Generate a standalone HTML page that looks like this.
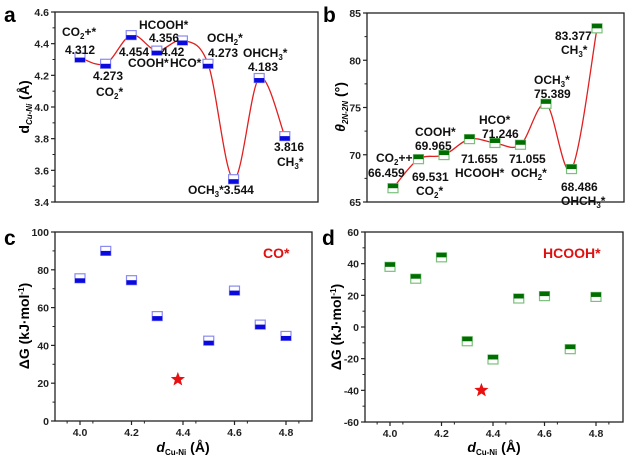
<!DOCTYPE html>
<html><head><meta charset="utf-8">
<style>
html,body{margin:0;padding:0;background:#fff;}
svg{display:block;font-family:"Liberation Sans",Arial,sans-serif;font-weight:bold;}
.t{font-size:12px;fill:#111;}
.tk{font-size:10.5px;fill:#222;}
.L{font-size:21px;fill:#000;}
</style></head><body>
<svg id="s" width="639" height="463" viewBox="0 0 639 463" xmlns="http://www.w3.org/2000/svg">
<rect width="639" height="463" fill="#fff"/>
<g id="g"></g>
<!-- panel letters -->
<text class="L" x="4" y="22">a</text>
<text class="L" x="323" y="22">b</text>
<text class="L" x="4" y="245">c</text>
<text class="L" x="322" y="245">d</text>

<!-- panel a labels -->
<g class="t">
<text x="62" y="36">CO<tspan font-size="8" dy="3">2</tspan><tspan dy="-3">+*</tspan></text>
<text x="65" y="54">4.312</text>
<text x="93" y="80">4.273</text>
<text x="96" y="96">CO<tspan font-size="8" dy="3">2</tspan><tspan dy="-3">*</tspan></text>
<text x="139" y="29">HCOOH*</text>
<text x="119" y="56">4.454</text>
<text x="149" y="42">4.356</text>
<text x="128" y="67">COOH*</text>
<text x="161" y="56">4.42</text>
<text x="170" y="67">HCO*</text>
<text x="207" y="42">OCH<tspan font-size="8" dy="3">2</tspan><tspan dy="-3">*</tspan></text>
<text x="208" y="57">4.273</text>
<text x="243" y="57">OHCH<tspan font-size="8" dy="3">3</tspan><tspan dy="-3">*</tspan></text>
<text x="248" y="71">4.183</text>
<text x="274" y="151">3.816</text>
<text x="277" y="166">CH<tspan font-size="8" dy="3">3</tspan><tspan dy="-3">*</tspan></text>
<text x="188" y="194">OCH<tspan font-size="8" dy="3">3</tspan><tspan dy="-3">*3.544</tspan></text>
</g>
<!-- panel b labels -->
<g class="t">
<text x="555" y="40">83.377</text>
<text x="561" y="54">CH<tspan font-size="8" dy="3">3</tspan><tspan dy="-3">*</tspan></text>
<text x="534" y="84">OCH<tspan font-size="8" dy="3">3</tspan><tspan dy="-3">*</tspan></text>
<text x="534" y="98">75.389</text>
<text x="479" y="124">HCO*</text>
<text x="482" y="138">71.246</text>
<text x="415" y="136">COOH*</text>
<text x="415" y="150">69.965</text>
<text x="376" y="162">CO<tspan font-size="8" dy="3">2</tspan><tspan dy="-3">++</tspan></text>
<text x="368" y="177">66.459</text>
<text x="461" y="163">71.655</text>
<text x="455" y="177">HCOOH*</text>
<text x="509" y="163">71.055</text>
<text x="511" y="177">OCH<tspan font-size="8" dy="3">2</tspan><tspan dy="-3">*</tspan></text>
<text x="412" y="181">69.531</text>
<text x="416" y="195">CO<tspan font-size="8" dy="3">2</tspan><tspan dy="-3">*</tspan></text>
<text x="561" y="191">68.486</text>
<text x="561" y="205">OHCH<tspan font-size="8" dy="3">3</tspan><tspan dy="-3">*</tspan></text>
</g>
<text x="263" y="258" font-size="14" fill="#e01010" style="font-weight:bold">CO*</text>
<text x="543" y="258" font-size="14" fill="#e01010" style="font-weight:bold">HCOOH*</text>

<!-- axis titles -->
<text transform="translate(29,107) rotate(-90)" text-anchor="middle" font-size="14">d<tspan font-size="8" dy="3" font-style="italic">Cu-Ni</tspan><tspan dy="-3"> (Å)</tspan></text>
<text transform="translate(345,107) rotate(-90)" text-anchor="middle" font-size="14" font-style="italic">θ<tspan font-size="8" dy="3">2N-2N</tspan><tspan dy="-3" font-style="normal"> (°)</tspan></text>
<text transform="translate(29,326) rotate(-90)" text-anchor="middle" font-size="14">ΔG (kJ·mol<tspan font-size="8" dy="-5">-1</tspan><tspan dy="5">)</tspan></text>
<text transform="translate(341,327) rotate(-90)" text-anchor="middle" font-size="14">ΔG (kJ·mol<tspan font-size="8" dy="-5">-1</tspan><tspan dy="5">)</tspan></text>
<text x="183" y="452" text-anchor="middle" font-size="14"><tspan font-style="italic">d</tspan><tspan font-size="8" dy="3">Cu-Ni</tspan><tspan dy="-3"> (Å)</tspan></text>
<text x="494" y="452" text-anchor="middle" font-size="14"><tspan font-style="italic">d</tspan><tspan font-size="8" dy="3">Cu-Ni</tspan><tspan dy="-3"> (Å)</tspan></text>
</svg>
<script>
var NS="http://www.w3.org/2000/svg",g=document.getElementById("g");
function el(n,a,p){var e=document.createElementNS(NS,n);for(var k in a)e.setAttribute(k,a[k]);(p||g).appendChild(e);return e;}
function txt(x,y,s,anc){var e=el("text",{x:x,y:y,"class":"tk","text-anchor":anc||"middle"});e.textContent=s;}
function axes(x0,x1,y0,y1,yt,ylab,xt,xlab){
 el("rect",{x:x0,y:y0,width:x1-x0,height:y1-y0,fill:"none",stroke:"#222","stroke-width":1.3});
 for(var i=0;i<yt.length;i++){var y=yt[i];el("line",{x1:x0-4,x2:x0,y1:y,y2:y,stroke:"#222","stroke-width":1.2});txt(x0-6,y+4,ylab[i],"end");
  if(i<yt.length-1){var m=(y+yt[i+1])/2;el("line",{x1:x0-2.5,x2:x0,y1:m,y2:m,stroke:"#222","stroke-width":1});}}
 if(xt){for(var i=0;i<xt.length;i++){var x=xt[i];el("line",{x1:x,x2:x,y1:y1,y2:y1+4,stroke:"#222","stroke-width":1.2});txt(x,y1+15,xlab[i]);
  var m=x+12.875;el("line",{x1:m,x2:m,y1:y1,y2:y1+2.5,stroke:"#222","stroke-width":1});if(i==0){m=x-12.875;el("line",{x1:m,x2:m,y1:y1,y2:y1+2.5,stroke:"#222","stroke-width":1});}}}
}
function cr(p){var d="M"+p[0][0]+","+p[0][1];for(var i=0;i<p.length-1;i++){var a=p[i>0?i-1:0],b=p[i],c=p[i+1],e=p[i+2<p.length?i+2:i+1];
 d+=" C"+(b[0]+(c[0]-a[0])/6)+","+(b[1]+(c[1]-a[1])/6)+" "+(c[0]-(e[0]-b[0])/6)+","+(c[1]-(e[1]-b[1])/6)+" "+c[0]+","+c[1];}return d;}
function mk(x,y,type){var w=10,h=9;
 if(type=="b"){el("rect",{x:x-w/2,y:y-h/2,width:w,height:h,fill:"#fff",stroke:"#8a8af0","stroke-width":1.2});el("rect",{x:x-w/2,y:y,width:w,height:h/2,fill:"#0a0ae0"});}
 else{el("rect",{x:x-w/2,y:y-h/2,width:w,height:h,fill:"#fff",stroke:"#7cc07c","stroke-width":1.2});el("rect",{x:x-w/2,y:y-h/2,width:w,height:h/2,fill:"#006e00"});}}
function star(cx,cy,r){var s="";for(var i=0;i<10;i++){var a=-Math.PI/2+i*Math.PI/5,rr=i%2?r*0.42:r;s+=(cx+rr*Math.cos(a))+","+(cy+rr*Math.sin(a))+" ";}el("polygon",{points:s,fill:"#e81010"});}
// panel a
var ya=function(v){return 12+(4.6-v)/1.2*190;};
var yta=[],yla=[];for(var v=4.6;v>3.39;v-=0.2){yta.push(ya(v));yla.push(v.toFixed(1));}
axes(55,318,12,202,yta,yla);
var va=[4.312,4.273,4.454,4.356,4.42,4.273,3.544,4.183,3.816],pa=[];
for(var i=0;i<9;i++)pa.push([80+i*25.6,ya(va[i])]);
el("path",{d:cr(pa),fill:"none",stroke:"#e02020","stroke-width":1.3});
pa.forEach(function(p){mk(p[0],p[1],"b");});
// panel b
var yb=function(v){return 13+(85-v)/20*189;};
var ytb=[],ylb=[];for(var v=85;v>=65;v-=5){ytb.push(yb(v));ylb.push(""+v);}
axes(367,624,13,202,ytb,ylb);
var vb=[66.459,69.531,69.965,71.655,71.246,71.055,75.389,68.486,83.377],pb=[];
for(var i=0;i<9;i++)pb.push([393+i*25.5,yb(vb[i])]);
el("path",{d:cr(pb),fill:"none",stroke:"#e02020","stroke-width":1.3});
pb.forEach(function(p){mk(p[0],p[1],"g");});
// panel c
var yc=function(v){return 421-v*1.89;};
var ytc=[],ylc=[];for(var v=100;v>=0;v-=20){ytc.push(yc(v));ylc.push(""+v);}
var xtc=[],xlc=[];for(var i=0;i<5;i++){xtc.push(80+i*51.5);xlc.push((4+i*0.2).toFixed(1));}
axes(55,312,232,421,ytc,ylc,xtc,xlc);
var xc=[4.0,4.1,4.2,4.3,4.5,4.6,4.7,4.8],vc=[75.5,90,74.5,55.5,42.5,69,51,45];
for(var i=0;i<xc.length;i++)mk(80+(xc[i]-4)*257.5,yc(vc[i]),"b");
star(80+0.38*257.5,yc(22),7.5);
// panel d
var yd=function(v){return 232+(60-v)*190/120;};
var ytd=[],yld=[];for(var v=60;v>=-60;v-=20){ytd.push(yd(v));yld.push(""+v);}
var xtd=[],xld=[];for(var i=0;i<5;i++){xtd.push(390+i*51.5);xld.push((4+i*0.2).toFixed(1));}
axes(365,623,232,422,ytd,yld,xtd,xld);
var xd=[4.0,4.1,4.2,4.3,4.4,4.5,4.6,4.7,4.8],vd=[38,30.5,44,-9,-20.5,18,19.5,-14,19];
for(var i=0;i<xd.length;i++)mk(390+(xd[i]-4)*257.5,yd(vd[i]),"g");
star(390+0.355*257.5,yd(-40),7.5);
</script>
</body></html>
